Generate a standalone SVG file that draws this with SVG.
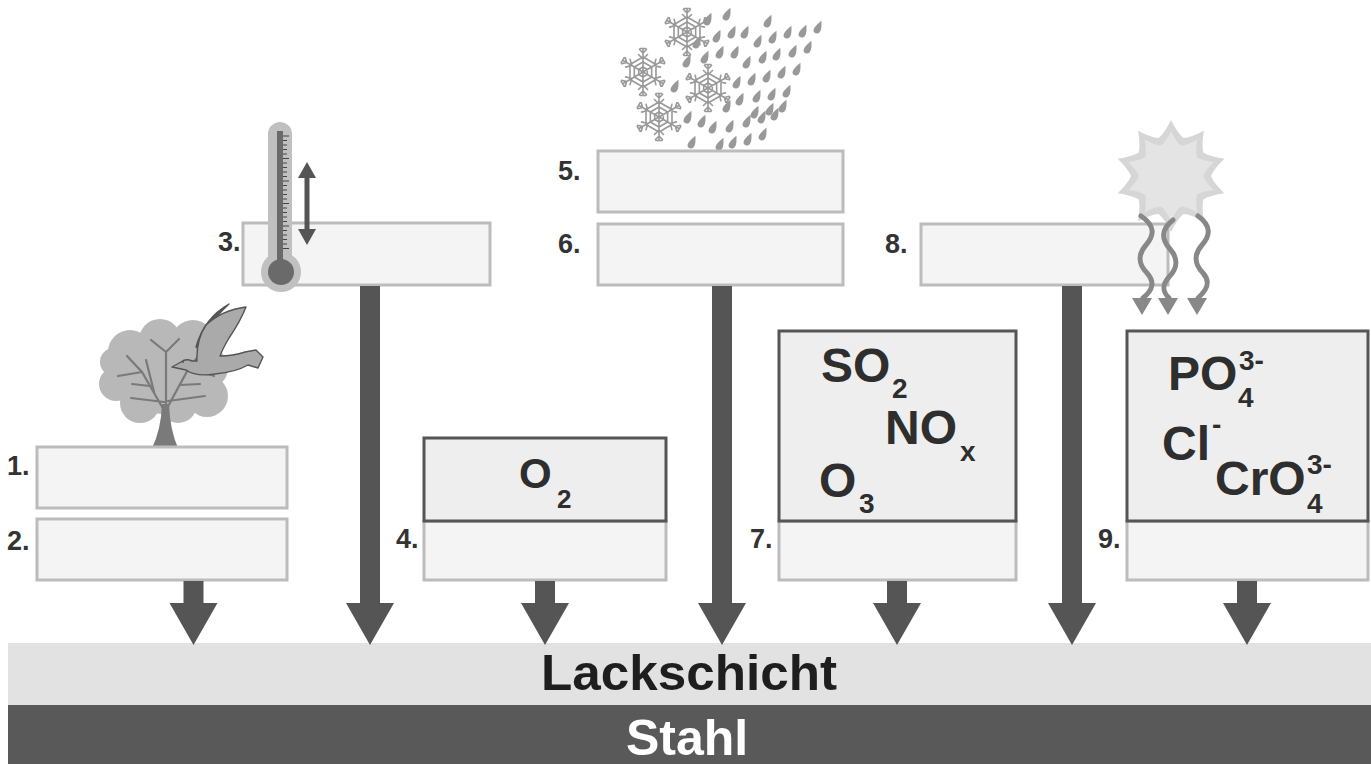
<svg xmlns="http://www.w3.org/2000/svg" xmlns:xlink="http://www.w3.org/1999/xlink" width="1371" height="764" viewBox="0 0 1371 764">
  <style>
    .box { fill: #f4f4f4; stroke: #bcbcbc; stroke-width: 3; }
    .dark { fill: #eeeeee; stroke: #555555; stroke-width: 3; }
    .num { font-family: "Liberation Sans", Arial, sans-serif; font-weight: bold; font-size: 27px; fill: #333333; }
    .chem { font-family: "Liberation Sans", Arial, sans-serif; font-weight: bold; font-size: 48px; fill: #2e2e2e; }
    .idx { font-family: "Liberation Sans", Arial, sans-serif; font-weight: bold; font-size: 28px; fill: #2e2e2e; }
    .arrow { fill: #555555; }
    .layer { font-family: "Liberation Sans", Arial, sans-serif; font-weight: bold; font-size: 50px; text-anchor: middle; }
    .flake { fill: none; stroke: #999999; stroke-width: 1.6; stroke-linecap: round; }
    .drop { fill: #999999; }
    .ray { fill: none; stroke: #888888; stroke-width: 5; stroke-linecap: round; }
    .rayhead { fill: #888888; }
  </style>
  <defs>
    <g id="arm">
      <path d="M0,0 V-23 M0,-13 l-4.5,-4.5 M0,-13 l4.5,-4.5 M0,-19 l-3.5,-3.5 M0,-19 l3.5,-3.5 M-3,-23.5 h6 M0,-5 L4.3,-2.5 M0,-10 L8.7,-5 M0,-15 L13,-7.5"/>
    </g>
    <g id="flake" class="flake">
      <use xlink:href="#arm"/>
      <use xlink:href="#arm" transform="rotate(60)"/>
      <use xlink:href="#arm" transform="rotate(120)"/>
      <use xlink:href="#arm" transform="rotate(180)"/>
      <use xlink:href="#arm" transform="rotate(240)"/>
      <use xlink:href="#arm" transform="rotate(300)"/>
    </g>
    <path id="drop" class="drop" d="M0,-8 Q4,-1 3.4,2.3 A3.4,3.4 0 1 1 -3.4,2.3 Q-3.4,-1 0,-8 Z" transform="rotate(25)"/>
    <path id="burst" d="M1171,120 Q1177.7,133.5 1183.4,138 Q1190.5,137.7 1203.9,130.7 Q1201.4,145.6 1203.4,152.5 Q1209.3,156.5 1224.3,158.7 Q1213.5,169.3 1211,176 Q1213.5,182.7 1224.3,193.3 Q1209.3,195.5 1203.4,199.5 Q1201.4,206.4 1203.9,221.3 Q1190.5,214.3 1183.4,214 Q1177.7,218.5 1171,232 Q1164.3,218.5 1158.6,214 Q1151.5,214.3 1138.1,221.3 Q1140.6,206.4 1138.6,199.5 Q1132.7,195.5 1117.7,193.3 Q1128.5,182.7 1131,176 Q1128.5,169.3 1117.7,158.7 Q1132.7,156.5 1138.6,152.5 Q1140.6,145.6 1138.1,130.7 Q1151.5,137.7 1158.6,138 Q1164.3,133.5 1171,120 Z"/>
  </defs>

  <!-- base layers -->
  <g id="layers">
    <rect x="8" y="643" width="1363" height="62" fill="#e2e2e2"/>
    <rect x="8" y="705" width="1363" height="59" fill="#595959"/>
    <text class="layer" x="689" y="690" fill="#1e1e1e" textLength="296" lengthAdjust="spacingAndGlyphs">Lackschicht</text>
    <text class="layer" x="687" y="755" fill="#ffffff">Stahl</text>
  </g>

  <!-- 1 / 2: tree and bird -->
  <g id="node-1-2">
    <g id="tree">
      <g fill="#b8b8b8">
        <circle cx="130" cy="352" r="22"/>
        <circle cx="160" cy="340" r="21"/>
        <circle cx="193" cy="342" r="22"/>
        <circle cx="208" cy="368" r="20"/>
        <circle cx="207" cy="396" r="21"/>
        <circle cx="178" cy="404" r="19"/>
        <circle cx="140" cy="403" r="20"/>
        <circle cx="116" cy="384" r="17"/>
        <circle cx="114" cy="362" r="14"/>
        <circle cx="162" cy="374" r="40"/>
      </g>
      <g stroke="#7a7a7a" stroke-linecap="round" fill="none">
        <path d="M165,412 L142,372 L127,356 M142,372 L118,376 M150,386 L132,384 M166,410 L190,366 L204,350 M190,366 L214,376 M180,385 L200,384 M166,408 L166,352 L151,340 M166,352 L179,339 M164,402 L131,398 M168,401 L205,396 M154,392 L146,360" stroke-width="2.2"/>
      </g>
      <path d="M152,448 Q161,430 162,404 L169,404 Q170,430 178,448 Z" fill="#7a7a7a"/>
    </g>
    <g id="bird" stroke="#555555" stroke-width="1.4" stroke-linejoin="round">
      <path d="M196,347 Q204,318 229,304 Q218,314 210,326 Q203,337 201,350 Z" fill="#555555"/>
      <path d="M172,367 L181,362 Q186,358 192,361 L197,361 Q196,340 206,325 Q222,310 246,307 Q240,322 229,338 Q223,348 220,356 Q233,356 245,352 L256,350 L263,357 L258,368 L248,365 Q236,372 215,374 Q196,377 186,370 Z" fill="#aaaaaa"/>
      <circle cx="183" cy="362" r="1" fill="#555555" stroke="none"/>
    </g>
    <rect class="box" x="37" y="447" width="250" height="61"/>
    <rect class="box" x="37" y="519" width="250" height="61"/>
    <text class="num" x="7" y="475">1.</text>
    <text class="num" x="7" y="550">2.</text>
  </g>

  <!-- 3: temperature -->
  <g id="node-3">
    <rect class="box" x="243" y="223" width="247" height="62"/>
    <text class="num" x="218" y="251">3.</text>
    <g id="thermometer">
      <rect x="268" y="122" width="24" height="145" rx="12" fill="#c0c0c0"/>
      <circle cx="281" cy="272" r="20" fill="#c0c0c0"/>
      <rect x="277" y="131" width="6" height="135" fill="#6a6a6a"/>
      <circle cx="281" cy="272" r="13" fill="#6a6a6a"/>
      <path stroke="#444444" stroke-width="1" d="M283,136h6M283,140.5h4M283,145h4M283,149.5h4M283,154h4M283,158.5h6M283,163h4M283,167.5h4M283,172h4M283,176.5h4M283,181h6M283,185.5h4M283,190h4M283,194.5h4M283,199h4M283,203.5h6M283,208h4M283,212.5h4M283,217h4M283,221.5h4M283,226h6M283,230.5h4M283,235h4M283,239.5h4M283,244h4M283,248.5h6"/>
    </g>
    <path d="M307,162 L316,178 L309.5,178 L309.5,229 L316,229 L307,245 L298,229 L304.5,229 L304.5,178 L298,178 Z" fill="#555555"/>
  </g>

  <!-- 4: oxygen -->
  <g id="node-4">
    <rect class="box" x="424" y="521" width="242" height="59"/>
    <rect class="dark" x="424" y="438" width="242" height="83"/>
    <text class="chem" x="519" y="488" style="font-size:42px">O</text>
    <text class="idx" x="557" y="508" style="font-size:26px">2</text>
    <text class="num" x="396" y="548">4.</text>
  </g>

  <!-- 5 / 6: snow and rain -->
  <g id="node-5-6">
    <g id="precipitation">
      <use xlink:href="#drop" x="708" y="20"/>
      <use xlink:href="#drop" x="727" y="15"/>
      <use xlink:href="#drop" x="768" y="22"/>
      <use xlink:href="#drop" x="717" y="37"/>
      <use xlink:href="#drop" x="732" y="33"/>
      <use xlink:href="#drop" x="745" y="33"/>
      <use xlink:href="#drop" x="758" y="42"/>
      <use xlink:href="#drop" x="773" y="38"/>
      <use xlink:href="#drop" x="788" y="33"/>
      <use xlink:href="#drop" x="803" y="32"/>
      <use xlink:href="#drop" x="818" y="28"/>
      <use xlink:href="#drop" x="697" y="43"/>
      <use xlink:href="#drop" x="687" y="62"/>
      <use xlink:href="#drop" x="705" y="58"/>
      <use xlink:href="#drop" x="720" y="53"/>
      <use xlink:href="#drop" x="735" y="53"/>
      <use xlink:href="#drop" x="747" y="63"/>
      <use xlink:href="#drop" x="763" y="58"/>
      <use xlink:href="#drop" x="777" y="55"/>
      <use xlink:href="#drop" x="793" y="52"/>
      <use xlink:href="#drop" x="808" y="48"/>
      <use xlink:href="#drop" x="675" y="87"/>
      <use xlink:href="#drop" x="737" y="83"/>
      <use xlink:href="#drop" x="752" y="80"/>
      <use xlink:href="#drop" x="767" y="77"/>
      <use xlink:href="#drop" x="782" y="73"/>
      <use xlink:href="#drop" x="797" y="70"/>
      <use xlink:href="#drop" x="740" y="100"/>
      <use xlink:href="#drop" x="757" y="97"/>
      <use xlink:href="#drop" x="772" y="95"/>
      <use xlink:href="#drop" x="787" y="92"/>
      <use xlink:href="#drop" x="688" y="118"/>
      <use xlink:href="#drop" x="702" y="122"/>
      <use xlink:href="#drop" x="727" y="107"/>
      <use xlink:href="#drop" x="755" y="113"/>
      <use xlink:href="#drop" x="770" y="110"/>
      <use xlink:href="#drop" x="783" y="107"/>
      <use xlink:href="#drop" x="713" y="128"/>
      <use xlink:href="#drop" x="730" y="127"/>
      <use xlink:href="#drop" x="747" y="122"/>
      <use xlink:href="#drop" x="762" y="118"/>
      <use xlink:href="#drop" x="775" y="115"/>
      <use xlink:href="#drop" x="692" y="143"/>
      <use xlink:href="#drop" x="720" y="145"/>
      <use xlink:href="#drop" x="733" y="143"/>
      <use xlink:href="#drop" x="748" y="140"/>
      <use xlink:href="#drop" x="763" y="135"/>
      <use xlink:href="#flake" x="687" y="32"/>
      <use xlink:href="#flake" x="643" y="72"/>
      <use xlink:href="#flake" x="708" y="88"/>
      <use xlink:href="#flake" x="659" y="117"/>
    </g>
    <rect class="box" x="598" y="151" width="245" height="61"/>
    <rect class="box" x="598" y="224" width="245" height="61"/>
    <text class="num" x="558" y="180">5.</text>
    <text class="num" x="558" y="253">6.</text>
  </g>

  <!-- 7: acid gases -->
  <g id="node-7">
    <rect class="box" x="779" y="521" width="237" height="59"/>
    <rect class="dark" x="779" y="331" width="237" height="190"/>
    <text class="chem" x="821" y="382">SO</text>
    <text class="idx" x="892" y="398">2</text>
    <text class="chem" x="885" y="444">NO</text>
    <text class="idx" x="960" y="461">x</text>
    <text class="chem" x="819" y="497">O</text>
    <text class="idx" x="859" y="513">3</text>
    <text class="num" x="750" y="548">7.</text>
  </g>

  <!-- 8: radiation -->
  <g id="node-8">
    <rect class="box" x="921" y="224" width="247" height="61"/>
    <text class="num" x="885" y="253">8.</text>
    <g id="sun">
      <use xlink:href="#burst" fill="#d6d6d6"/>
      <use xlink:href="#burst" fill="#e4e4e4" transform="translate(1171,176) scale(0.8) translate(-1171,-176)"/>
    </g>
    <path class="ray" d="M1141,216 C1156,226 1154,236 1146,245 C1138,254 1138,264 1147,273 C1155,282 1153,290 1143,298"/>
    <path class="ray" d="M1173,220 C1160,230 1162,240 1170,249 C1178,258 1178,268 1169,277 C1161,286 1163,292 1169,298"/>
    <path class="ray" d="M1198,216 C1212,226 1210,236 1202,245 C1194,254 1194,264 1203,273 C1211,282 1207,290 1198,298"/>
    <path class="rayhead" d="M1132,298 H1152 L1142,315 Z M1158,298 H1178 L1168,315 Z M1187,298 H1207 L1197,315 Z"/>
  </g>

  <!-- 9: ions -->
  <g id="node-9">
    <rect class="box" x="1127" y="521" width="241" height="59"/>
    <rect class="dark" x="1127" y="331" width="241" height="190"/>
    <text class="chem" x="1168" y="390">PO</text>
    <text class="idx" x="1239" y="370">3-</text>
    <text class="idx" x="1238" y="407">4</text>
    <text class="chem" x="1162" y="460">Cl</text>
    <text class="idx" x="1212" y="434">-</text>
    <text class="chem" x="1215" y="495">CrO</text>
    <text class="idx" x="1307" y="474">3-</text>
    <text class="idx" x="1307" y="513">4</text>
    <text class="num" x="1098" y="548">9.</text>
  </g>

  <!-- connectors -->
  <g id="connectors" class="arrow">
    <path d="M183.5,581 H203.5 V603 H217.5 L193.5,645 L169.5,603 H183.5 Z"/>
    <path d="M360,286 H380 V603 H394 L370,645 L346,603 H360 Z"/>
    <path d="M535,581 H555 V603 H569 L545,645 L521,603 H535 Z"/>
    <path d="M712,286 H732 V603 H746 L722,645 L698,603 H712 Z"/>
    <path d="M887,581 H907 V603 H921 L897,645 L873,603 H887 Z"/>
    <path d="M1062,286 H1082 V603 H1096 L1072,645 L1048,603 H1062 Z"/>
    <path d="M1237,581 H1257 V603 H1271 L1247,645 L1223,603 H1237 Z"/>
  </g>
</svg>
